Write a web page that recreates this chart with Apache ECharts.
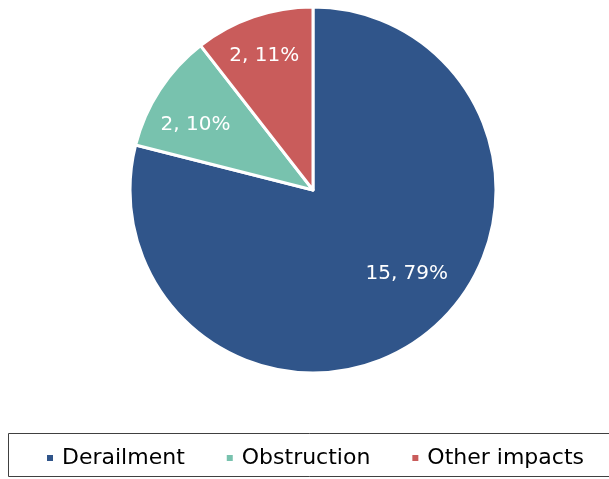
<!DOCTYPE html>
<html><head><meta charset="utf-8">
<script src="https://cdn.jsdelivr.net/npm/echarts@6/dist/echarts.min.js"></script>
<style>html,body{margin:0;padding:0;background:#fff}#c{width:609px;height:479px}</style>
</head><body><div id="c"></div>
<script>
const categories = ['Derailment', 'Obstruction', 'Other impacts'];
const values = [15, 2, 2];
const percentLabels = ['79%', '10%', '11%'];
const colors = ['#30558A', '#78C2AE', '#C95C5B'];

const chart = echarts.init(document.getElementById('c'), null, {renderer: 'canvas'});
const FONT = '"DejaVu Sans", sans-serif';
const pieData = categories.map((n, i) => ({name: n, value: values[i], itemStyle: {color: colors[i]}}));

chart.setOption({
  animation: false,
  backgroundColor: '#ffffff',
  graphic: [{
    type: 'rect', silent: true,
    shape: {x: 8.5, y: 433.5, width: 620, height: 43},
    style: {fill: 'none', stroke: '#404040', lineWidth: 1}
  }],
  legend: {
    data: categories,
    left: 40, top: 442,
    itemWidth: 8, itemHeight: 8, itemGap: 40,
    icon: 'rect',
    textStyle: {fontFamily: FONT, fontSize: 22, color: '#000', padding: [0, 0, 0, 3]}
  },
  series: [{
    type: 'pie',
    center: [313, 190],
    radius: [0, 183],
    startAngle: 90,
    clockwise: true,
    data: pieData,
    itemStyle: {borderColor: '#fff', borderWidth: 3},
    label: {show: false},
    labelLine: {show: false},
    emphasis: {disabled: true},
    silent: true
  }, {
    type: 'pie',
    center: [313, 190],
    radius: [100, 170],
    startAngle: 90,
    clockwise: true,
    data: categories.map((n, i) => ({name: n, value: values[i], itemStyle: {color: 'rgba(0,0,0,0)', borderWidth: 0}})),
    label: {
      show: true, position: 'inside',
      fontFamily: FONT, fontSize: 20, color: '#fff',
      formatter: p => p.value + ', ' + percentLabels[p.dataIndex]
    },
    labelLayout: p => p.dataIndex === 0 ? {dx: 9, dy: -25} : (p.dataIndex === 1 ? {dx: -2, dy: 10} : {dx: -4, dy: -4}),
    labelLine: {show: false},
    emphasis: {disabled: true},
    silent: true
  }]
});
</script></body></html>
